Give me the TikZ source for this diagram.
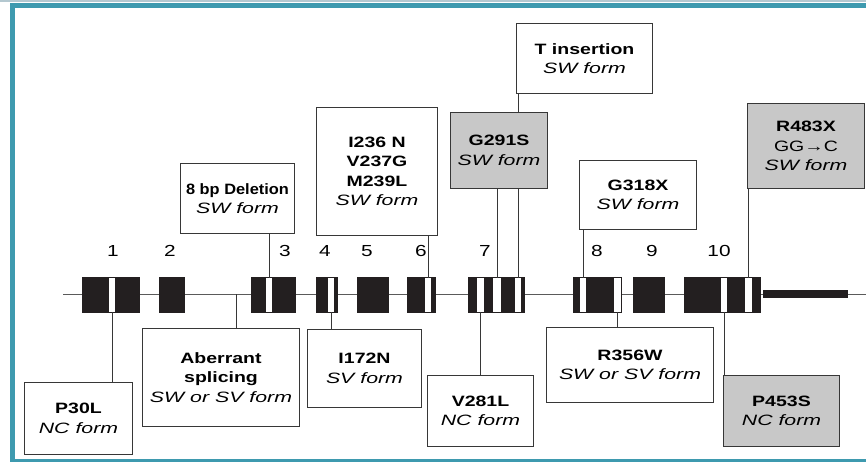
\documentclass[tikz,border=0pt]{standalone}
\usepackage{fontspec}
\setmainfont[FakeStretch=1.3, ItalicFeatures={FakeStretch=1.42}]{Liberation Sans}
\definecolor{tealframe}{RGB}{62,154,175}
\definecolor{exonc}{RGB}{35,31,32}
\definecolor{boxline}{RGB}{55,55,55}
\definecolor{shadec}{RGB}{200,200,200}
\definecolor{geneline}{RGB}{90,90,90}
\begin{document}
\begin{tikzpicture}[x=1pt,y=-1pt,
  mbox/.style={draw=boxline, line width=1pt, fill=white, align=center, inner sep=0pt,
    anchor=north west, font=\fontsize{15}{19.5}\selectfont},
  sbox/.style={mbox, fill=shadec},
  exon/.style={fill=exonc, draw=none, inner sep=0pt, anchor=north west, minimum height=36pt},
  stripe/.style={fill=white, draw=none, inner sep=0pt, anchor=north west, minimum height=34pt},
  conn/.style={draw=boxline, line width=0.9pt},
  num/.style={font=\fontsize{16}{16}\selectfont, inner sep=0pt},
  frame/.style={draw=tealframe, line width=5pt}]
\useasboundingbox (0,0) rectangle (866,462);
% frame
\draw[draw={rgb,255:red,180;green,200;blue,208}, line width=2pt] (0,1) -- (866,1);
\draw[frame] (870,5.5) -- (12.5,5.5) -- (12.5,461.5) -- (870,461.5);
% gene line
\coordinate (gstart) at (63,294);
\coordinate (gend) at (866,294);
\coordinate (splice) at (236,294);
\draw[draw=geneline, line width=1pt] (gstart) -- (gend);
% exons
\node[exon, minimum width=58pt] (e1) at (82,277) {};
\node[exon, minimum width=26pt] (e2) at (159,277) {};
\node[exon, minimum width=45pt] (e3) at (251,277) {};
\node[exon, minimum width=22pt] (e4) at (316,277) {};
\node[exon, minimum width=32pt] (e5) at (357,277) {};
\node[exon, minimum width=29pt] (e6) at (407,277) {};
\node[exon, minimum width=57pt] (e7) at (468,277) {};
\node[exon, minimum width=49pt] (e8) at (573,277) {};
\node[exon, minimum width=32pt] (e9) at (633,277) {};
\node[exon, minimum width=77pt] (e10) at (684,277) {};
\node[exon, minimum width=85pt, minimum height=8pt] (utr) at (763,290) {};
% stripes
\node[stripe, minimum width=6pt] (s1) at (109,278) {};
\node[stripe, minimum width=6pt] (s3) at (266,278) {};
\node[stripe, minimum width=6pt] (s4) at (328,278) {};
\node[stripe, minimum width=6pt] (s6) at (425,278) {};
\node[stripe, minimum width=7pt] (s7a) at (477,278) {};
\node[stripe, minimum width=8pt] (s7b) at (493,278) {};
\node[stripe, minimum width=6pt] (s7c) at (515,278) {};
\node[stripe, minimum width=6pt] (s8a) at (580,278) {};
\node[stripe, minimum width=7pt] (s8b) at (614,278) {};
\node[stripe, minimum width=6pt] (s10a) at (721,278) {};
\node[stripe, minimum width=7pt] (s10b) at (745,278) {};
% exon numbers
\node[num] (n1) at (113,251) {1};
\node[num] (n2) at (170,251) {2};
\node[num] (n3) at (285,251) {3};
\node[num] (n4) at (325,251) {4};
\node[num] (n5) at (367,251) {5};
\node[num] (n6) at (421,251) {6};
\node[num] (n7) at (485,251) {7};
\node[num] (n8) at (597,251) {8};
\node[num] (n9) at (652,251) {9};
\node[num] (n10) at (719,251) {10};
% upper boxes
\node[mbox, minimum width=136pt, minimum height=70pt] (tins) at (516,23) {\textbf{T insertion}\\\textit{SW form}};
\draw[conn] (tins.south -| s7c.north) -- (s7c.north);
\node[sbox, minimum width=97pt, minimum height=76pt] (g291) at (450,112) {\textbf{G291S}\\\textit{SW form}};
\node[mbox, minimum width=114pt, minimum height=70pt] (del8) at (180,163) {\scalebox{0.84}[1]{\textbf{8 bp Deletion}}\\\textit{SW form}};
\node[mbox, minimum width=121pt, minimum height=128pt] (i236) at (316,107) {\textbf{I236 N}\\\textbf{V237G}\\\textbf{M239L}\\\textit{SW form}};
\node[mbox, minimum width=117pt, minimum height=69pt] (g318) at (579,160) {\textbf{G318X}\\\textit{SW form}};
\node[sbox, minimum width=117pt, minimum height=85pt] (r483) at (747,103) {\textbf{R483X}\\GG→C\\\textit{SW form}};
% lower boxes
\node[mbox, minimum width=108pt, minimum height=72pt] (p30l) at (24,382) {\textbf{P30L}\\\textit{NC form}};
\node[mbox, minimum width=157pt, minimum height=98pt] (aberr) at (142,328) {\textbf{Aberrant}\\\textbf{splicing}\\\textit{SW or SV form}};
\node[mbox, minimum width=114pt, minimum height=78pt] (i172) at (307,329) {\textbf{I172N}\\\textit{SV form}};
\node[mbox, minimum width=106pt, minimum height=71pt] (v281) at (427,375) {\textbf{V281L}\\\textit{NC form}};
\node[mbox, minimum width=167pt, minimum height=75pt] (r356) at (546,327) {\textbf{R356W}\\\textit{SW or SV form}};
\node[sbox, minimum width=116pt, minimum height=71pt] (p453) at (723,375) {\textbf{P453S}\\\textit{NC form}};
% connectors
\draw[conn] (g291.south -| s7b.north) -- (s7b.north);
\draw[conn] (del8.south -| s3.north) -- (s3.north);
\draw[conn] (i236.south -| s6.north) -- (s6.north);
\draw[conn] (g318.south -| s8a.north) -- (s8a.north);
\draw[conn] (r483.south -| s10b.north) -- (s10b.north);
\draw[conn] (s1.south) -- (s1.south |- p30l.north);
\draw[conn] (splice) -- (splice |- aberr.north);
\draw[conn] (s4.south) -- (s4.south |- i172.north);
\draw[conn] (s7a.south) -- (s7a.south |- v281.north);
\draw[conn] (s8b.south) -- (s8b.south |- r356.north);
\draw[conn] (s10a.south) -- (s10a.south |- p453.north);
\end{tikzpicture}
\end{document}
